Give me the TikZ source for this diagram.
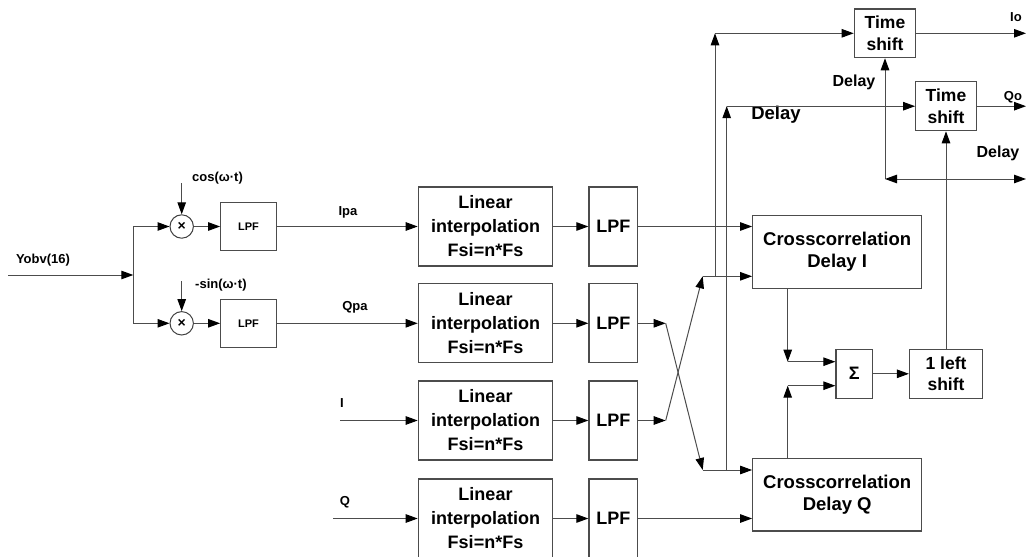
\documentclass[tikz,border=0pt]{standalone}
\usepackage{fontspec}
\setmainfont{Liberation Sans}
\usetikzlibrary{arrows.meta}
\tikzset{
  tip/.tip={Triangle[length=12pt,width=8.5pt,color=black]},
  blk/.style={draw=black!70, line width=1.2pt, align=center, inner sep=0pt, font=\bfseries},
  arr/.style={draw=black!70, line width=1pt, -tip},
  arrb/.style={draw=black!70, line width=1pt, tip-tip},
  ln/.style={draw=black!70, line width=1pt},
  lbl/.style={inner sep=0pt, font=\bfseries\fontsize{13}{15}\selectfont},
  lif/.style={font=\bfseries\fontsize{18}{24}\selectfont},
  crf/.style={font=\bfseries\fontsize{18.5}{21.7}\selectfont},
  tsf/.style={font=\bfseries\fontsize{17.5}{21.7}\selectfont},
}
\begin{document}
\begin{tikzpicture}[x=1pt,y=-1pt]
\useasboundingbox (0,0) rectangle (1026,557);
% left part
\coordinate (yin) at (8,275);
\coordinate (split) at (133.3,275);
\coordinate (s1) at (133.3,226.5);
\coordinate (s2) at (133.3,323.3);
\node[lbl] (ylab) at (43,260) {Yobv(16)};
\node[draw=black!75, line width=1pt, circle, minimum size=23.4pt, inner sep=0pt, font=\bfseries\fontsize{14}{14}\selectfont] (m1) at (181.7,226.5) {×};
\node[draw=black!75, line width=1pt, circle, minimum size=23.4pt, inner sep=0pt, font=\bfseries\fontsize{14}{14}\selectfont] (m2) at (181.7,323.3) {×};
\coordinate (c1) at (181.7,183);
\coordinate (c2) at (181.7,281);
\node[lbl, anchor=west] (cl) at (192,178) {cos(ω·t)};
\node[lbl, anchor=west] (sl) at (195,285) {-sin(ω·t)};
\node[blk, minimum width=55.6pt, minimum height=48.3pt, font=\bfseries\fontsize{11}{12}\selectfont] (lpfa) at (248.5,226.5) {LPF};
\node[blk, minimum width=55.6pt, minimum height=48.3pt, font=\bfseries\fontsize{11}{12}\selectfont] (lpfb) at (248.5,323.3) {LPF};
% interpolation boxes
\node[blk, lif, minimum width=134.4pt, minimum height=79pt] (li1) at (485.5,226.5) {Linear\\interpolation\\Fsi=n*Fs};
\node[blk, lif, minimum width=134.4pt, minimum height=79pt] (li2) at (485.5,323.3) {Linear\\interpolation\\Fsi=n*Fs};
\node[blk, lif, minimum width=134.4pt, minimum height=79pt] (li3) at (485.5,420.5) {Linear\\interpolation\\Fsi=n*Fs};
\node[blk, lif, minimum width=134.4pt, minimum height=79pt] (li4) at (485.5,518.5) {Linear\\interpolation\\Fsi=n*Fs};
\node[blk, lif, minimum width=48.7pt, minimum height=79pt] (f1) at (613.3,226.5) {LPF};
\node[blk, lif, minimum width=48.7pt, minimum height=79pt] (f2) at (613.3,323.3) {LPF};
\node[blk, lif, minimum width=48.7pt, minimum height=79pt] (f3) at (613.3,420.5) {LPF};
\node[blk, lif, minimum width=48.7pt, minimum height=79pt] (f4) at (613.3,518.5) {LPF};
\node[lbl] (ipa) at (348,212) {Ipa};
\node[lbl] (qpa) at (355,307) {Qpa};
\node[lbl] (il) at (342,403) {I};
\node[lbl] (ql) at (345,502) {Q};
\coordinate (iin) at (340,420.5);
\coordinate (qin) at (333,518.5);
% right part
\node[blk, crf, minimum width=169pt, minimum height=72.6pt] (cri) at (837.2,252) {Crosscorrelation\\Delay I};
\node[blk, crf, minimum width=169pt, minimum height=72.6pt] (crq) at (837.2,494.7) {Crosscorrelation\\Delay Q};
\node[blk, minimum width=36.7pt, minimum height=49pt, font=\bfseries\fontsize{18}{20}\selectfont] (sig) at (854.3,373.8) {Σ};
\node[blk, tsf, minimum width=73pt, minimum height=49pt] (lsh) at (946,373.8) {1 left\\shift};
\node[blk, tsf, minimum width=61.4pt, minimum height=48.7pt] (ts1) at (885,33.3) {Time\\shift};
\node[blk, tsf, minimum width=60.6pt, minimum height=49pt] (ts2) at (946,106.2) {Time\\shift};
\node[lbl] (iol) at (1016,17) {Io};
\node[lbl] (qol) at (1013,97) {Qo};
\node[inner sep=0pt, font=\bfseries\fontsize{18.5}{20}\selectfont] (dl1) at (776,115) {Delay};
\node[inner sep=0pt, font=\bfseries\fontsize{16}{18}\selectfont] (dl2) at (854,82) {Delay};
\node[inner sep=0pt, font=\bfseries\fontsize{16}{18}\selectfont] (dl3) at (998,153) {Delay};
\coordinate (k2) at (665.7,323.3);
\coordinate (k3) at (665.7,420.5);
\coordinate (j1) at (702.7,276.3);
\coordinate (j2) at (702.7,470);
\coordinate (v1b) at (715,276.3);
\coordinate (v1t) at (715,33.3);
\coordinate (v2b) at (726.7,470);
\coordinate (v2t) at (726.7,106.2);
\coordinate (io) at (1026,33.3);
\coordinate (qo) at (1026,106.2);
\coordinate (d1) at (885,179);
\coordinate (d2) at (1026,179);
\coordinate (sa) at (787.7,361.7);
\coordinate (sb) at (787.7,385.7);
% connectors left
\draw[arr] (yin) -- (split);
\draw[ln] (s1) -- (s2);
\draw[arr] (s1) -- (m1);
\draw[arr] (s2) -- (m2);
\draw[arr] (c1) -- (m1);
\draw[arr] (c2) -- (m2);
\draw[arr] (m1) -- (lpfa);
\draw[arr] (m2) -- (lpfb);
\draw[arr] (lpfa) -- (li1);
\draw[arr] (lpfb) -- (li2);
\draw[arr] (iin) -- (li3);
\draw[arr] (qin) -- (li4);
\draw[arr] (li1) -- (f1);
\draw[arr] (li2) -- (f2);
\draw[arr] (li3) -- (f3);
\draw[arr] (li4) -- (f4);
% connectors right
\draw[arr] (f1.east) -- (f1.east -| cri.west);
\draw[arr] (f4.east) -- (f4.east -| crq.west);
\draw[arr] (f2.east) -- (k2);
\draw[arr] (f3.east) -- (k3);
\draw[arr] (k2) -- (j2);
\draw[arr] (k3) -- (j1);
\draw[arr] (j1) -- (j1 -| cri.west);
\draw[arr] (j2) -- (j2 -| crq.west);
\draw[arr] (v1b) -- (v1t);
\draw[arr] (v1t) -- (ts1);
\draw[arr] (v2b) -- (v2t);
\draw[arr] (v2t) -- (ts2);
\draw[arr] (ts1) -- (io);
\draw[arr] (ts2) -- (qo);
\draw[arr] (d1) -- (ts1);
\draw[arrb] (d1) -- (d2);
\draw[arr] (sa |- cri.south) -- (sa);
\draw[arr] (sa) -- (sa -| sig.west);
\draw[arr] (sb |- crq.north) -- (sb);
\draw[arr] (sb) -- (sb -| sig.west);
\draw[arr] (sig) -- (lsh);
\draw[arr] (lsh) -- (ts2);
\end{tikzpicture}
\end{document}
